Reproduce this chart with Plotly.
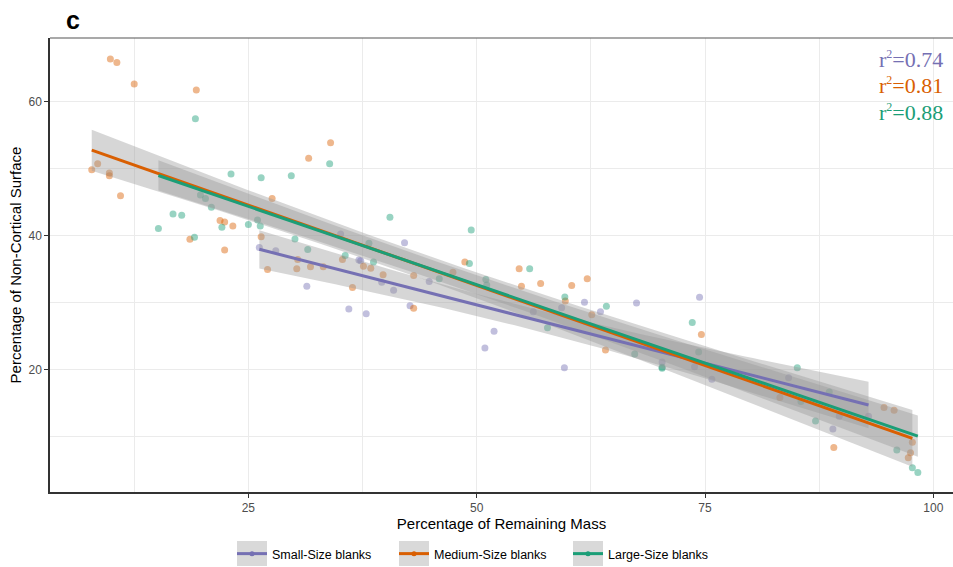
import numpy as np
import plotly.graph_objects as go

# Percentage of remaining mass (x) vs. percentage of non-cortical surface (y)
small_x = [26.2, 28.0, 31.4, 35.1, 36.0, 37.1, 37.3, 37.9, 39.6, 40.9, 42.1, 42.7, 44.8,
           50.9, 51.9, 56.2, 59.3, 59.6, 61.8, 63.55, 67.5, 70.3, 73.85, 74.4, 75.75,
           84.15, 89.0, 89.7, 92.9]
small_y = [38.3, 37.8, 32.5, 40.3, 29.1, 36.4, 36.3, 28.4, 33.1, 31.9, 39.0, 29.6, 33.2,
           23.3, 25.8, 28.7, 29.3, 20.35, 30.1, 28.7, 30.0, 21.2, 20.5, 30.85, 18.6,
           18.85, 11.2, 13.1, 13.1]

medium_x = [7.85, 8.5, 9.78, 9.78, 9.89, 10.6, 11.0, 12.5, 18.6, 19.3, 21.9, 22.4, 22.4,
            23.3, 26.4, 27.1, 27.6, 30.3, 30.4, 31.6, 31.8, 33.2, 34.0, 35.3, 36.4, 37.6,
            38.4, 39.75, 43.1, 43.1, 47.4, 48.7, 54.65, 54.9, 57.0, 59.7, 60.4, 62.1,
            62.6, 64.1, 74.6, 83.2, 89.1, 94.6, 95.7, 97.25, 97.5, 97.7]
medium_y = [49.9, 50.8, 49.4, 49.0, 66.4, 65.9, 46.0, 62.7, 39.5, 61.8, 42.3, 42.1, 37.9,
            41.5, 39.9, 35.0, 45.6, 35.1, 36.5, 51.6, 35.4, 35.4, 53.9, 36.5, 32.3, 35.5,
            35.2, 34.2, 34.1, 29.2, 34.6, 36.1, 35.1, 32.5, 32.9, 30.3, 32.6, 33.6,
            28.25, 23.0, 25.3, 15.9, 8.45, 14.4, 14.0, 6.9, 7.65, 9.2]

large_x = [15.15, 16.75, 17.7, 19.1, 19.2, 19.75, 20.3, 20.95, 22.1, 23.1, 25.0, 26.0, 26.3,
           26.4, 29.7, 30.1, 31.5, 33.9, 35.6, 38.2, 38.7, 40.5, 45.9, 49.2, 49.4, 51.0,
           51.1, 55.8, 57.75, 59.65, 64.2, 67.3, 70.3, 70.3, 73.6, 74.3, 85.1, 85.5,
           87.1, 88.6, 96.0, 97.7, 98.3]
large_y = [41.1, 43.3, 43.1, 39.8, 57.5, 46.1, 45.6, 44.3, 41.3, 49.25, 41.7, 42.4, 41.5,
           48.7, 49.0, 39.55, 38.0, 50.8, 37.1, 38.9, 36.1, 42.8, 33.6, 35.9, 40.9, 33.5,
           32.7, 35.1, 26.3, 30.9, 29.5, 22.4, 20.25, 20.4, 27.1, 22.7, 20.35, 15.3,
           12.4, 16.7, 8.05, 5.4, 4.7]

group_names = ["Small-Size blanks", "Medium-Size blanks", "Large-Size blanks"]
group_colors = ["#7570B3", "#D95F02", "#1B9E77"]
group_point_colors = ["rgba(117,112,179,0.45)", "rgba(217,95,2,0.45)", "rgba(27,158,119,0.45)"]
r2_labels = ["0.74", "0.81", "0.88"]

groups = [(small_x, small_y), (medium_x, medium_y), (large_x, large_y)]

W, H = 953, 567
PLOT_L, PLOT_T, PLOT_B = 50, 38, 492


def t_quantile_975(df):
    # Cornish-Fisher expansion of the Student t 97.5% quantile
    z = 1.959964
    return (z + (z**3 + z) / (4 * df)
            + (5 * z**5 + 16 * z**3 + 3 * z) / (96 * df**2)
            + (3 * z**7 + 19 * z**5 + 17 * z**3 - 15 * z) / (384 * df**3))


def lm_smooth(xs, ys, n=80):
    x = np.asarray(xs, float)
    y = np.asarray(ys, float)
    slope, intercept = np.polyfit(x, y, 1)
    resid = y - (intercept + slope * x)
    df = len(x) - 2
    s = np.sqrt(np.sum(resid**2) / df)
    sxx = np.sum((x - x.mean())**2)
    grid = np.linspace(x.min(), x.max(), n)
    fit = intercept + slope * grid
    half = t_quantile_975(df) * s * np.sqrt(1 / len(x) + (grid - x.mean())**2 / sxx)
    return grid, fit, fit - half, fit + half


fig = go.Figure()

# raw observations
for (xs, ys), pc in zip(groups, group_point_colors):
    fig.add_trace(go.Scatter(
        x=xs, y=ys, mode="markers", showlegend=False, hoverinfo="skip",
        marker=dict(size=7, color=pc, line=dict(width=0)),
    ))

smooths = [lm_smooth(xs, ys) for xs, ys in groups]

# confidence ribbons
for grid, fit, lo, hi in smooths:
    fig.add_trace(go.Scatter(
        x=np.concatenate([grid, grid[::-1]]),
        y=np.concatenate([hi, lo[::-1]]),
        mode="lines", fill="toself", fillcolor="rgba(153,153,153,0.4)",
        line=dict(width=0), showlegend=False, hoverinfo="skip",
    ))

# fitted lines
for (grid, fit, lo, hi), col in zip(smooths, group_colors):
    fig.add_trace(go.Scatter(
        x=grid, y=fit, mode="lines", showlegend=False,
        line=dict(color=col, width=3), hoverinfo="skip",
    ))

# one legend per group, each with a grey key box behind its symbol
legend_left_px = [232, 394, 568]
legend_cy_px = 554
legend_ids = ["legend", "legend2", "legend3"]
legend_layouts = {}
for name, col, lid, lx in zip(group_names, group_colors, legend_ids, legend_left_px):
    fig.add_trace(go.Scatter(
        x=[None], y=[None], mode="lines+markers", name=name, legend=lid,
        line=dict(color=col, width=3), marker=dict(color=col, size=5),
    ))
    legend_layouts[lid] = dict(
        orientation="h", xref="container", yref="container",
        x=lx / W, xanchor="left", y=1 - legend_cy_px / H, yanchor="middle",
        bgcolor="rgba(0,0,0,0)", font=dict(size=12.5, color="black"), itemwidth=30,
    )
    box_x0 = (lx + 5 - PLOT_L) / (W - PLOT_L)
    box_x1 = (lx + 35 - PLOT_L) / (W - PLOT_L)
    fig.add_shape(type="rect", xref="paper", yref="paper",
                  x0=box_x0, x1=box_x1,
                  y0=(PLOT_B - 566) / (PLOT_B - PLOT_T), y1=(PLOT_B - 541) / (PLOT_B - PLOT_T),
                  fillcolor="#D9D9D9", line=dict(width=0), layer="above")

# r-squared annotations
for i, (lab, col) in enumerate(zip(r2_labels, group_colors)):
    fig.add_annotation(
        xref="paper", yref="paper", x=0.991,
        y=(PLOT_B - 59 - i * 26.8) / (PLOT_B - PLOT_T),
        xanchor="right", yanchor="middle", showarrow=False,
        text="r<sup><span style='font-size:12px'>2</span></sup>=" + lab,
        font=dict(family="Liberation Serif, Times New Roman, serif", size=22, color=col),
    )

fig.add_annotation(
    xref="paper", yref="paper", x=0.016, y=(PLOT_B - 20) / (PLOT_B - PLOT_T),
    xanchor="left", yanchor="middle", showarrow=False, text="<b>c</b>",
    font=dict(family="Liberation Sans, Arial, sans-serif", size=25, color="black"),
)

# top border of the panel
fig.add_shape(type="line", xref="paper", yref="paper", x0=0, x1=1, y0=1, y1=1,
              line=dict(color="#555555", width=1.2))

axis_common = dict(
    showline=True, linecolor="#333333", linewidth=1.5,
    ticks="outside", ticklen=4, tickcolor="#333333", tickwidth=1,
    tickfont=dict(size=12, color="#4D4D4D"),
    showgrid=True, gridcolor="#EBEBEB", gridwidth=1.3, zeroline=False,
)

fig.update_layout(
    width=W, height=H,
    margin=dict(l=PLOT_L, r=0, t=PLOT_T, b=H - PLOT_B),
    paper_bgcolor="white", plot_bgcolor="white",
    font=dict(family="Liberation Sans, Arial, sans-serif", color="black"),
    xaxis=dict(range=[3.28, 102.15], tickvals=[25, 50, 75, 100],
               minor=dict(dtick=12.5, tick0=0, showgrid=True, gridcolor="#EBEBEB", gridwidth=0.7),
               title=dict(text="Percentage of Remaining Mass", font=dict(size=15), standoff=4),
               **axis_common),
    yaxis=dict(range=[1.79, 69.55], tickvals=[20, 40, 60],
               minor=dict(dtick=10, tick0=0, showgrid=True, gridcolor="#EBEBEB", gridwidth=0.7),
               title=dict(text="Percentage of Non-Cortical Surface", font=dict(size=15), standoff=3),
               **axis_common),
    showlegend=True,
    **legend_layouts,
)

fig.write_html("out.html")
